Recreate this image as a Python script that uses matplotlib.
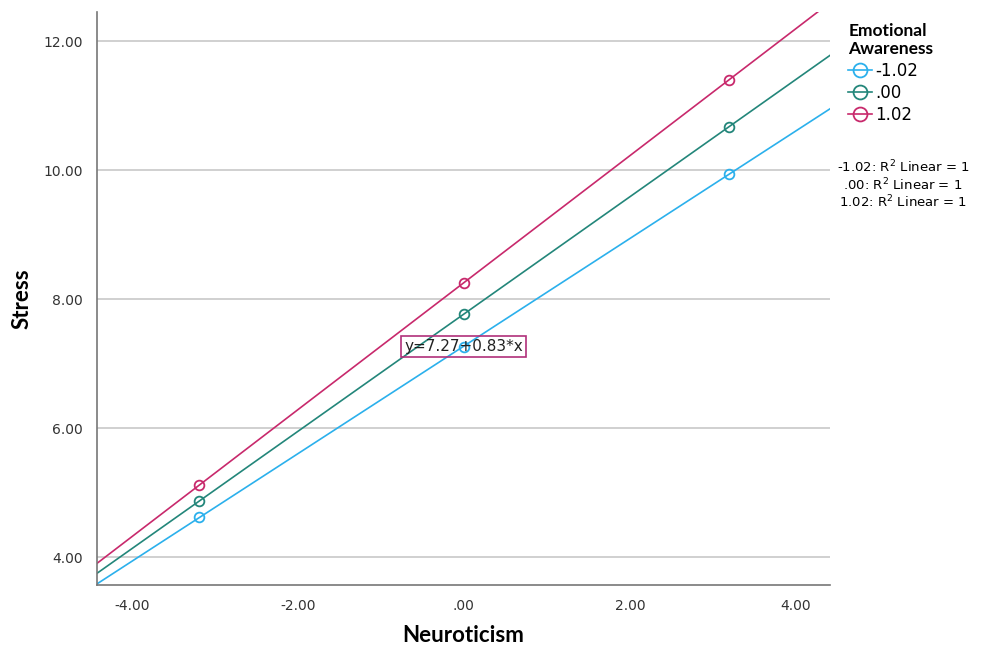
import numpy as np
import matplotlib.pyplot as plt
from matplotlib.lines import Line2D

# Neuroticism values where the simple slopes are evaluated
neuro = [-3.19, 0.0, 3.19]
# Emotional Awareness levels and predicted stress
levels = ['-1.02', '.00', '1.02']
stress_low = [4.62, 7.26, 9.94]
stress_mid = [4.87, 7.77, 10.67]
stress_high = [5.12, 8.25, 11.40]
colors = ['#2BB0EC', '#23867A', '#C8296C']

x_ticks = [-4, -2, 0, 2, 4]
x_labels = ['-4.00', '-2.00', '.00', '2.00', '4.00']
y_ticks = [4, 6, 8, 10, 12]
y_labels = ['4.00', '6.00', '8.00', '10.00', '12.00']

fig = plt.figure(figsize=(9.85, 6.48), dpi=100)
ax = fig.add_axes([0.0985, 0.0972, 0.744, 0.884])
xmin, xmax = -4.42, 4.41
ax.set_xlim(xmin, xmax)
ax.set_ylim(3.57, 12.45)

for y in y_ticks:
    ax.axhline(y, color='#c8c8c8', lw=1.2, zorder=0)

xs = np.array([xmin, xmax])
for vals, c in zip([stress_low, stress_mid, stress_high], colors):
    b, a = np.polyfit(neuro, vals, 1)
    ax.plot(xs, a + b * xs, color=c, lw=1.2)
    ax.plot(neuro, vals, 'o', mfc='none', mec=c, ms=7, mew=1.3)

ax.text(0, 7.27, 'y=7.27+0.83*x', ha='center', va='center', fontsize=11,
        color='#222222',
        bbox=dict(boxstyle='square,pad=0.2', fc='none', ec='#B0307A', lw=1.2))

ax.set_xticks(x_ticks)
ax.set_xticklabels(x_labels, fontsize=10, color='#333333')
ax.set_yticks(y_ticks)
ax.set_yticklabels(y_labels, fontsize=10, color='#333333')
ax.tick_params(length=0, pad=10)
for s in ['top', 'right']:
    ax.spines[s].set_visible(False)
for s in ['left', 'bottom']:
    ax.spines[s].set_color('#777777')
    ax.spines[s].set_linewidth(1.2)

ax.set_xlabel('Neuroticism', fontsize=16, fontweight='bold', family='Lato', labelpad=9)
ax.set_ylabel('Stress', fontsize=16, fontweight='bold', family='Lato', labelpad=8)

handles = [Line2D([], [], color=c, marker='o', mfc='none', ms=10, mew=1.3, lw=1.2)
           for c in colors]
leg = fig.legend(handles, levels, loc='upper left', bbox_to_anchor=(0.846, 0.988),
                 frameon=False, fontsize=12, handlelength=1.4, handletextpad=0.2,
                 labelspacing=0.25, title='Emotional\nAwareness',
                 title_fontproperties={'weight': 'bold', 'size': 12.5, 'family': 'Lato'},
                 alignment='left')

r2 = ['-1.02: R$^2$ Linear = 1', '.00: R$^2$ Linear = 1', '1.02: R$^2$ Linear = 1']
for i, t in enumerate(r2):
    fig.text(0.917, 0.742 - i * 0.027, t, ha='center', va='center', fontsize=9.5)

fig.savefig('out.png', dpi=100)
